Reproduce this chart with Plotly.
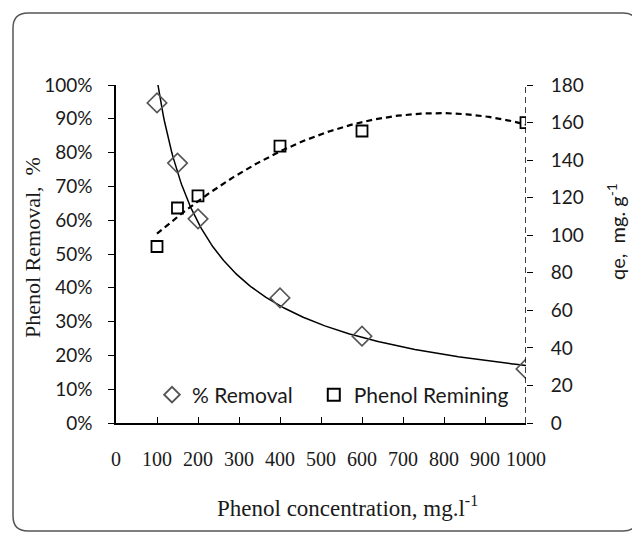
import numpy as np
import plotly.graph_objects as go

# ---- data ----
concentration = [100, 150, 200, 400, 600, 1000]
removal_frac = [0.947, 0.769, 0.604, 0.370, 0.257, 0.160]
qe_values = [94.0, 114.5, 121.0, 147.5, 155.5, 160.0]

x_ticks = [0, 100, 200, 300, 400, 500, 600, 700, 800, 900, 1000]
left_ticks = [0, 0.1, 0.2, 0.3, 0.4, 0.5, 0.6, 0.7, 0.8, 0.9, 1.0]
right_ticks = [0, 20, 40, 60, 80, 100, 120, 140, 160, 180]

# ---- trendlines fitted from the data (Excel-style power and 2nd-order poly) ----
xc = np.array(concentration, dtype=float)
b, ln_a = np.polyfit(np.log(xc), np.log(np.array(removal_frac)), 1)
quad = np.polyfit(xc, np.array(qe_values), 2)
xs = np.linspace(xc.min(), xc.max(), 300)
removal_fit = np.exp(ln_a) * xs ** b
qe_fit = np.polyval(quad, xs)

# ---- layout geometry: design in window pixels; page body adds an 8px offset ----
OFF = 8
W, H = 640, 534
PL, PR, PT, PB = 116, 526, 85, 423          # plot area in window pixels
L, T = PL - OFF, PT - OFF
R, B = W - (PR - OFF), H - (PB - OFF)
PW, PH = PR - PL, PB - PT


def px(x):
    return (x - PL) / PW


def py(y):
    return (PB - y) / PH


sans = "Lato, Open Sans, sans-serif"
serif = "Liberation Serif, Times New Roman, serif"
ink = "#1a1a1a"
NB = "\u00a0"

fig = go.Figure()

fig.add_trace(go.Scatter(x=xs, y=removal_fit, mode="lines",
                         line=dict(color="black", width=1.5),
                         showlegend=False, hoverinfo="skip"))
fig.add_trace(go.Scatter(x=xs, y=qe_fit, mode="lines", yaxis="y2",
                         line=dict(color="black", width=2.2, dash="6px,4px"),
                         showlegend=False, hoverinfo="skip"))
fig.add_trace(go.Scatter(x=concentration, y=removal_frac, mode="markers",
                         name="% Removal" + NB * 3,
                         marker=dict(symbol="diamond-open", size=15,
                                     color="#555555", line=dict(width=1.6))))
fig.add_trace(go.Scatter(x=concentration, y=qe_values, mode="markers",
                         name="Phenol Remining", yaxis="y2",
                         marker=dict(symbol="square-open", size=11,
                                     color="black", line=dict(width=1.8))))

tick_font_sans = dict(family=sans, size=19, color=ink)

fig.update_layout(
    width=W, height=H,
    margin=dict(l=L, r=R, t=T, b=B),
    paper_bgcolor="white", plot_bgcolor="white",
    xaxis=dict(range=[0, 1000], tickvals=x_ticks, ticktext=[str(v) for v in x_ticks],
               showgrid=False, zeroline=False, showline=True, linecolor="black",
               linewidth=1.5, ticks="inside", ticklen=6, tickcolor="black",
               tickwidth=1.3, ticklabelstandoff=17,
               tickfont=dict(family=serif, size=20, color=ink)),
    yaxis=dict(range=[0, 1.0], tickvals=left_ticks, tickformat=".0%",
               showgrid=False, zeroline=False, showline=True, linecolor="black",
               linewidth=1.5, ticks="outside", ticklen=6, tickcolor="black",
               tickwidth=1.3, ticklabelstandoff=12, tickfont=tick_font_sans),
    yaxis2=dict(range=[0, 180], tickvals=right_ticks, overlaying="y", side="right",
                showgrid=False, zeroline=False, showline=False,
                ticks="outside", ticklen=6, tickcolor="black", tickwidth=1.3,
                ticklabelstandoff=14, tickfont=tick_font_sans),
    legend=dict(orientation="h", x=px(152), y=py(395), xanchor="left",
                yanchor="middle", bgcolor="rgba(0,0,0,0)",
                font=dict(family=sans, size=21, color=ink),
                itemsizing="constant"),
    showlegend=True,
)

# dashed right axis line
fig.add_shape(type="line", xref="x", yref="paper", x0=1000, x1=1000, y0=0, y1=1,
              line=dict(color="black", width=1.5, dash="6px,4px"))

# rounded frame around the chart (window pixels)
x0, y0, x1, y1, r = 13, 13, 638, 531, 15
path = (f"M {px(x0 + r)},{py(y0)} L {px(x1 - r)},{py(y0)} "
        f"Q {px(x1)},{py(y0)} {px(x1)},{py(y0 + r)} "
        f"L {px(x1)},{py(y1 - r)} Q {px(x1)},{py(y1)} {px(x1 - r)},{py(y1)} "
        f"L {px(x0 + r)},{py(y1)} Q {px(x0)},{py(y1)} {px(x0)},{py(y1 - r)} "
        f"L {px(x0)},{py(y0 + r)} Q {px(x0)},{py(y0)} {px(x0 + r)},{py(y0)} Z")
fig.add_shape(type="path", xref="paper", yref="paper", path=path,
              line=dict(color="#555555", width=1.5), layer="below")

# axis titles
fig.add_annotation(text="Phenol Removal,  %", xref="paper", yref="paper",
                   x=px(32), y=py(248), xanchor="center", yanchor="middle",
                   textangle=-90, showarrow=False,
                   font=dict(family=serif, size=22, color=ink))
fig.add_annotation(text="qe,  mg. g<sup>-1</sup>", xref="paper", yref="paper",
                   x=px(616), y=py(232), xanchor="center", yanchor="middle",
                   textangle=-90, showarrow=False,
                   font=dict(family=sans, size=20, color=ink))
fig.add_annotation(text="Phenol concentration, mg.l<sup>-1</sup>", xref="paper", yref="paper",
                   x=px(347), y=py(506), xanchor="center", yanchor="middle",
                   showarrow=False,
                   font=dict(family=serif, size=23, color=ink))

fig.write_html("out.html")
